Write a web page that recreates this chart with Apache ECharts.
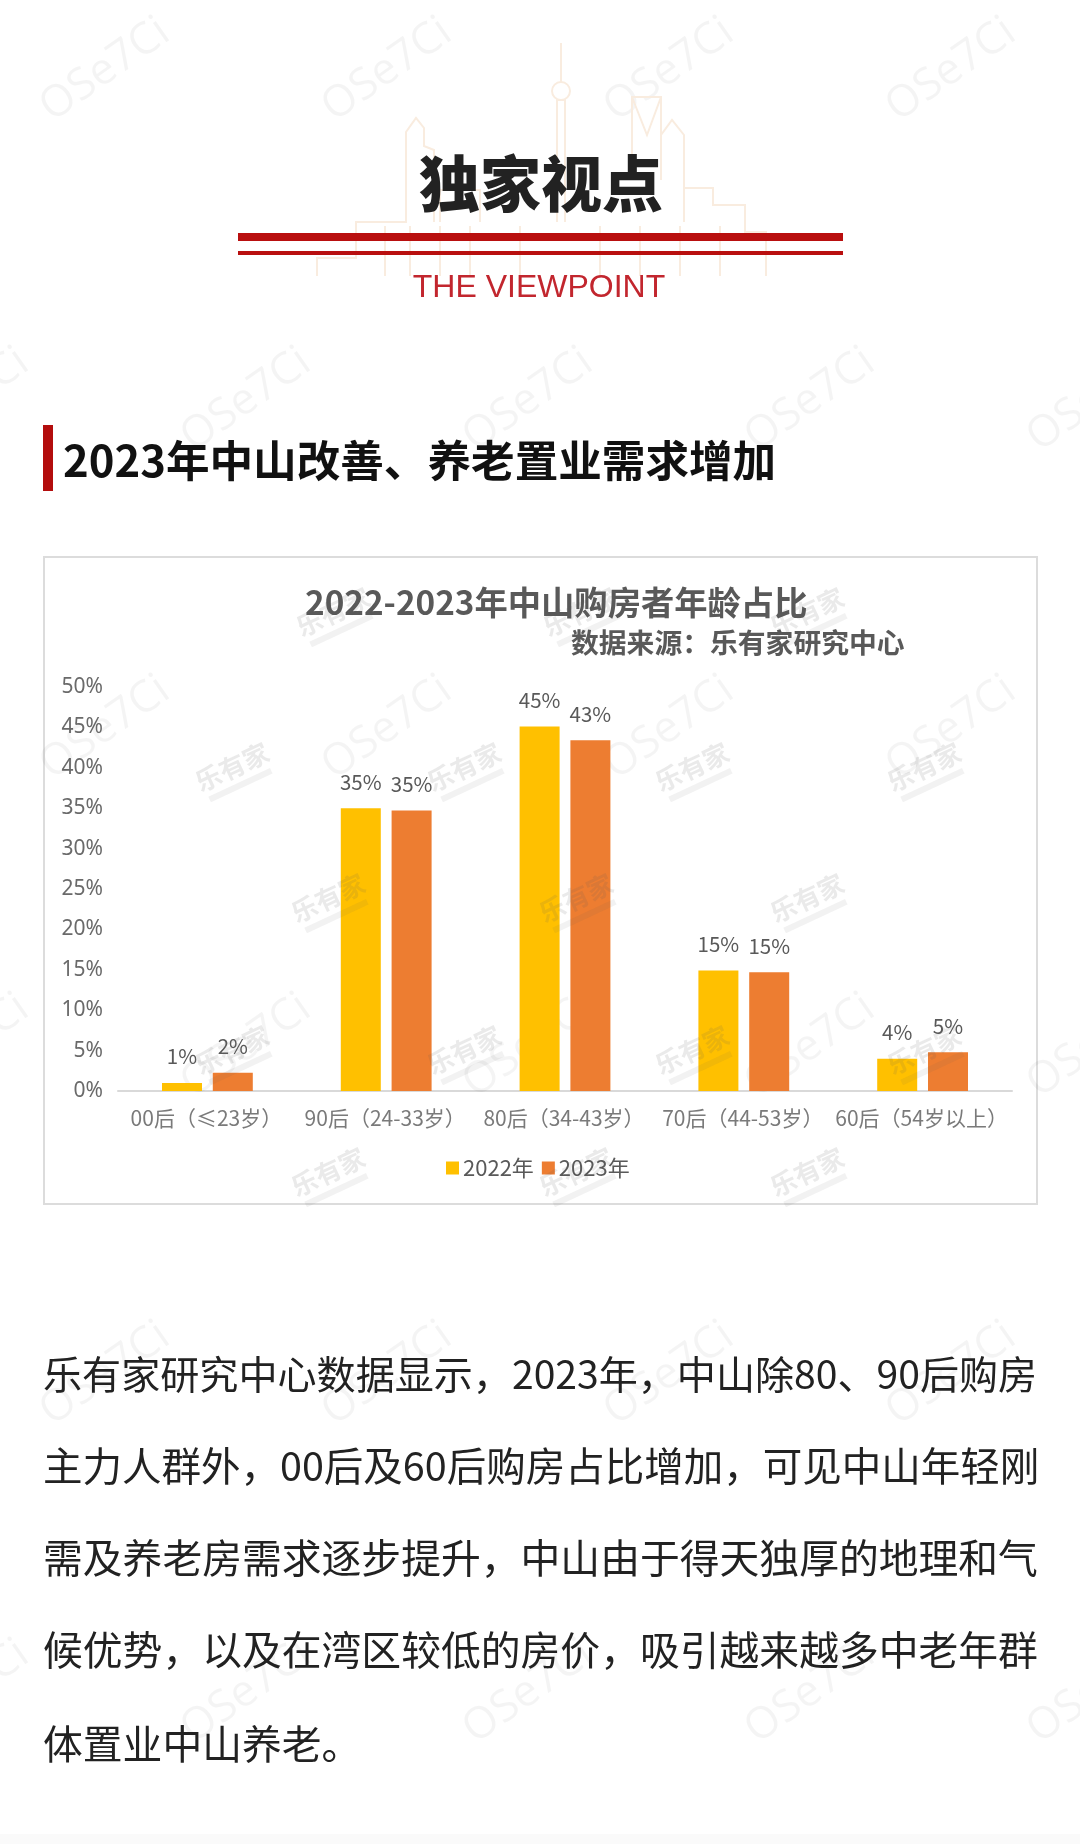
<!DOCTYPE html>
<html><head><meta charset="utf-8">
<style>html,body{margin:0;padding:0;background:#fff}#c{width:1080px;height:1844px}</style>
<script src="https://cdn.jsdelivr.net/npm/echarts@6/dist/echarts.min.js"></script>
</head><body><div id="c"></div>
<script>
const categories = ['00后（≤23岁）','90后（24-33岁）','80后（34-43岁）','70后（44-53岁）','60后（54岁以上）'];
const values2022 = [1.0,35.0,45.1,14.9,4.0];
const values2023 = [2.25,34.7,43.4,14.7,4.8];
const seriesNames = ['2022年','2023年'];
const bodyLines = [
 '乐有家研究中心数据显示，2023年，中山除80、90后购房',
 '主力人群外，00后及60后购房占比增加，可见中山年轻刚',
 '需及养老房需求逐步提升，中山由于得天独厚的地理和气',
 '候优势，以及在湾区较低的房价，吸引越来越多中老年群',
 '体置业中山养老。'];
const bodySizes = [39.1,39.5,39.8,39.8,39.8];
const bodyY = [1374,1466,1558,1650,1744];
const F = '"Noto Sans CJK SC","Noto Sans",sans-serif';
const chart = echarts.init(document.getElementById('c'),null,{renderer:'canvas',width:1080,height:1844});
const g = [];
// OSe7Ci watermark
const wmRows = [[70,[105,387,669,951]],[400,[-36,246,528,810,1092]],[728,[105,387,669,951]],[1046,[-36,246,528,810,1092]],[1374,[105,387,669,951]],[1692,[-36,246,528,810,1092]]];
wmRows.forEach(([y,xs])=>xs.forEach(x=>g.push({type:'text',x,y,rotation:Math.PI/180*35,z:1,
  style:{text:'OSe7Ci',fill:'rgba(0,0,0,0.045)',font:'400 44px "Open Sans",sans-serif',textAlign:'center',textVerticalAlign:'middle'}})));
// 乐有家 watermark inside chart
const lyjRows = [[612,[333,580,807]],[767,[232,464,692,924]],[898,[328,576,807]],[1050,[232,464,692,924]],[1172,[328,576,807]]];
lyjRows.forEach(([y,xs])=>xs.forEach(x=>{
  const rot=Math.PI/180*25;
  g.push({type:'text',x,y,rotation:rot,z:90,style:{text:'乐有家',fill:'rgba(90,90,90,0.13)',font:'bold 26px '+F,textAlign:'center',textVerticalAlign:'middle'}});
  g.push({type:'rect',x,y,rotation:rot,z:90,shape:{x:-34,y:17,width:68,height:6},style:{fill:'rgba(90,90,90,0.08)'}});
}));
// skyline
const skyColor='#f9ecdf';
const skyPaths=[
 [[317,276],[317,258],[356,258],[356,222],[406,222],[406,132],[416,118],[424,128],[424,146],[434,150],[434,222]],
 [[440,222],[440,190],[480,190],[480,222]],
 [[557,222],[557,100],[565,100],[565,222]],
 [[561,43],[561,82]],
 [[632,180],[632,97],[661,97],[661,180]],[[632,97],[647,135],[661,97]],
 [[661,135],[672,120],[684,135],[684,222]],
 [[684,188],[713,188],[713,205],[745,205],[745,232],[766,232],[766,276]],
 [[385,226],[385,276]],[[410,226],[410,276]],[[440,226],[440,276]],[[470,226],[470,276]],[[520,226],[520,276]],[[600,226],[600,276]],[[640,226],[640,276]],[[680,226],[680,276]],[[720,226],[720,276]]
];
skyPaths.forEach(p=>g.push({type:'polyline',z:1,shape:{points:p},style:{stroke:skyColor,lineWidth:2,fill:null}}));
g.push({type:'circle',z:1,shape:{cx:561,cy:91,r:9},style:{stroke:skyColor,lineWidth:2,fill:'#fff'}});
// header
g.push({type:'text',x:541,y:184,z:10,style:{text:'独家视点',fill:'#222',font:'900 61px '+F,textAlign:'center',textVerticalAlign:'middle'}});
g.push({type:'rect',z:10,shape:{x:238,y:233,width:605,height:8},style:{fill:'#b90f0f'}});
g.push({type:'rect',z:10,shape:{x:238,y:251,width:605,height:4},style:{fill:'#b90f0f'}});
g.push({type:'text',x:539,y:288,z:10,style:{text:'THE VIEWPOINT',fill:'#c2262e',font:'400 32px "Liberation Sans",sans-serif',textAlign:'center',textVerticalAlign:'middle'}});
// section title
g.push({type:'rect',z:10,shape:{x:43,y:425,width:10,height:66},style:{fill:'#b30d0d'}});
g.push({type:'text',x:63,y:460,z:10,style:{text:'2023年中山改善、养老置业需求增加',fill:'#111',font:'700 43.6px '+F,textAlign:'left',textVerticalAlign:'middle'}});
// chart box
g.push({type:'rect',z:0,shape:{x:44,y:557,width:993,height:647},style:{fill:'#fff',stroke:'#dcdcdc',lineWidth:2}});
// body text
bodyLines.forEach((t,i)=>g.push({type:'text',x:43,y:bodyY[i],z:10,style:{text:t,fill:'#222',font:'400 '+bodySizes[i]+'px '+F,textAlign:'left',textVerticalAlign:'middle'}}));
// bottom strip
g.push({type:'rect',z:0,shape:{x:0,y:1834,width:1080,height:10},style:{fill:'#fafafa'}});

const lab = {show:true,position:'top',distance:16,fontSize:20.5,color:'#595959',fontFamily:F,formatter:p=>Math.round(p.value)+'%'};
chart.setOption({
 animation:false,backgroundColor:'#fff',
 graphic:g,
 title:[
  {text:'2022-2023年中山购房者年龄占比',left:300,top:581,textStyle:{fontSize:33.3,fontWeight:'bold',color:'#595959',fontFamily:F}},
  {text:'数据来源：乐有家研究中心',left:566,top:624,textStyle:{fontSize:27.8,fontWeight:'bold',color:'#595959',fontFamily:F}}
 ],
 legend:{left:441,top:1152,itemWidth:13,itemHeight:13,itemGap:8,icon:'rect',data:seriesNames,
  textStyle:{fontSize:22,color:'#595959',fontFamily:F,padding:[0,0,0,-1]}},
 grid:{left:118,right:68,top:687,bottom:753},
 xAxis:{type:'category',data:categories,axisTick:{show:false},axisLine:{lineStyle:{color:'#d9d9d9',width:2}},
  axisLabel:{interval:0,fontSize:21,color:'#7a7a7a',fontFamily:F,margin:17,padding:[0,2,0,0]}},
 yAxis:{type:'value',min:0,max:50,interval:5,splitLine:{show:false},axisLine:{show:false},axisTick:{show:false},
  axisLabel:{formatter:'{value}%',fontSize:21,color:'#6a6a6a',fontFamily:'"Noto Sans",sans-serif',margin:15}},
 series:[
  {name:seriesNames[0],type:'bar',barWidth:40,barGap:'27%',data:values2022,itemStyle:{color:'#FFC000'},label:lab,z:5},
  {name:seriesNames[1],type:'bar',barWidth:40,data:values2023,itemStyle:{color:'#ED7D31'},label:lab,z:5}
 ]
});
</script></body></html>
